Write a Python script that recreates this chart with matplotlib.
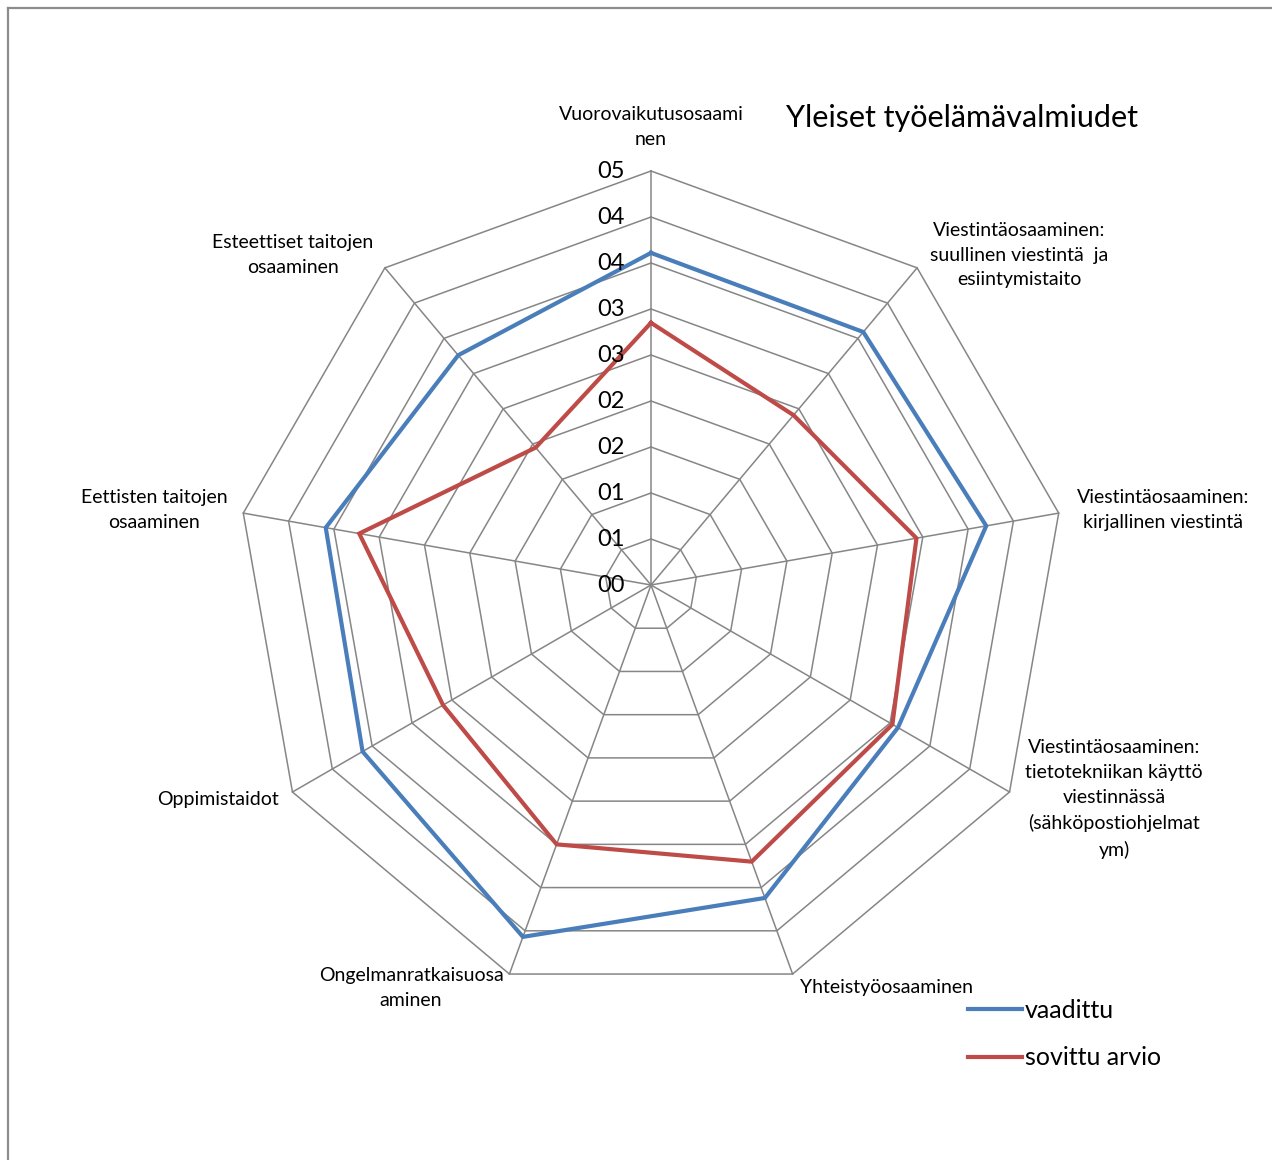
import numpy as np
import matplotlib
matplotlib.use("Agg")
import matplotlib.pyplot as plt
from matplotlib.lines import Line2D

plt.rcParams['font.family'] = ['Lato', 'DejaVu Sans']

# data
categories = [
    "Vuorovaikutusosaami\nnen",
    "Viestintäosaaminen:\nsuullinen viestintä  ja\nesiintymistaito",
    "Viestintäosaaminen:\nkirjallinen viestintä",
    "Viestintäosaaminen:\ntietotekniikan käyttö\nviestinnässä\n(sähköpostiohjelmat\nym)",
    "Yhteistyöosaaminen",
    "Ongelmanratkaisuosa\naminen",
    "Oppimistaidot",
    "Eettisten taitojen\nosaaminen",
    "Esteettiset taitojen\nosaaminen",
]
vaadittu = [3.61, 3.59, 3.70, 3.10, 3.62, 4.07, 3.62, 3.59, 3.26]
sovittu_arvio = [2.85, 2.41, 2.93, 3.03, 3.20, 3.00, 2.61, 3.22, 1.95]
tick_values = [0, 0.5, 1.0, 1.5, 2.0, 2.5, 3.0, 3.5, 4.0, 4.5]
tick_labels = ["00", "01", "01", "02", "02", "03", "03", "04", "04", "05"]

# label centres in pixels (x, y from top)
label_pos = [(651, 127), (1019, 255), (1163, 510), (1114, 799), (886, 988),
             (411, 988), (218, 799), (154, 510), (293, 255)]

W, H = 1272, 1160
fig = plt.figure(figsize=(W / 100, H / 100), dpi=100)

# left/top border of the chart area
fig.add_artist(Line2D([8 / W, 8 / W], [0, 1 - 8 / H], color="#8c8c8c", lw=1.6))
fig.add_artist(Line2D([8 / W, 1], [1 - 8 / H, 1 - 8 / H], color="#8c8c8c", lw=1.6))

R = 414
cx, cy = 651, 585
ax = fig.add_axes([(cx - R) / W, (H - cy - R) / H, 2 * R / W, 2 * R / H], projection="polar")
ax.set_theta_zero_location("N")
ax.set_theta_direction(-1)
ax.set_ylim(0, 4.5)
ax.set_axis_off()

n = len(categories)
angles = np.linspace(0, 2 * np.pi, n, endpoint=False)
closed = np.append(angles, angles[0])

grid_col = "#868686"
for v in tick_values[1:]:
    ax.plot(closed, [v] * (n + 1), color=grid_col, lw=1.1, clip_on=False, zorder=1)
for a in angles:
    ax.plot([a, a], [0, tick_values[-1]], color=grid_col, lw=1.1, clip_on=False, zorder=1)

ax.plot(closed, vaadittu + vaadittu[:1], color="#4a7ebb", lw=3, label="vaadittu",
        clip_on=False, zorder=3, solid_joinstyle="miter")
ax.plot(closed, sovittu_arvio + sovittu_arvio[:1], color="#be4b48", lw=3, label="sovittu arvio",
        clip_on=False, zorder=3, solid_joinstyle="miter")

for v, t in zip(tick_values, tick_labels):
    ax.annotate(t, (0, v), xytext=(-19, 0), textcoords="offset points",
                ha="right", va="center", fontsize=17, color="#000000", zorder=4)

for lbl, (px, py) in zip(categories, label_pos):
    fig.text(px / W, 1 - py / H, lbl, ha="center", va="center", fontsize=14,
             linespacing=1.55, multialignment="center")

fig.text(962 / W, 1 - 118 / H, "Yleiset työelämävalmiudet", ha="center", va="center",
         fontsize=22)

fig.legend(loc="center left", bbox_to_anchor=(968 / W, 1 - 1034 / H), frameon=False,
           fontsize=18, handlelength=2.15, handletextpad=0.12, labelspacing=0.98,
           borderpad=0, borderaxespad=0)

fig.savefig("out.png", dpi=100)
